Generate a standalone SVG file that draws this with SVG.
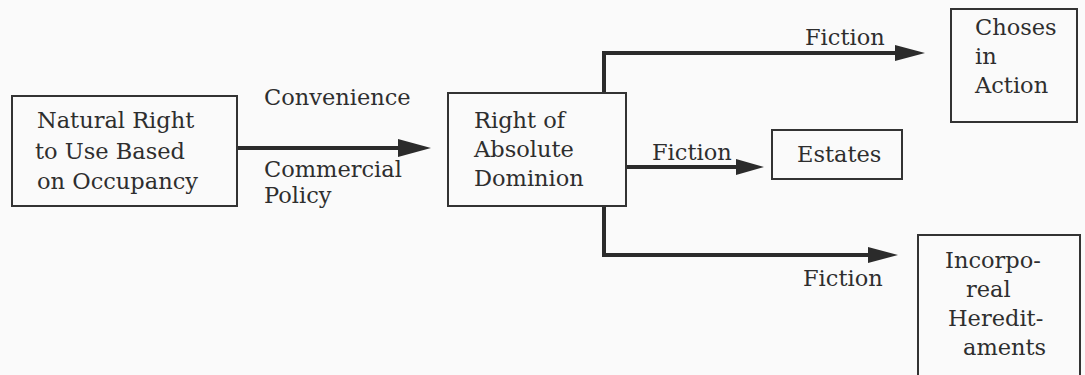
<svg xmlns="http://www.w3.org/2000/svg" width="1085" height="375" viewBox="0 0 1085 375">
<defs>
<style>
.bg{fill:#fafafa}
.box{fill:none;stroke:#333;stroke-width:2}
.t{font-family:"DejaVu Serif","Liberation Serif",serif;font-size:22.5px;fill:#2e2e2e}
.ln{fill:none;stroke:#2b2b2b;stroke-width:4;stroke-linejoin:miter}
.head{fill:#2b2b2b}
</style>
</defs>
<rect class="bg" x="0" y="0" width="1085" height="375"/>
<g id="connectors">
<line class="ln" x1="237" y1="148" x2="404" y2="148" stroke-width="5"/>
<polygon class="head" points="398,139 431,148 398,157"/>
<polyline class="ln" points="760,53 604,53 604,93"/>
<polygon class="head" points="895,45 925,53 895,61"/>
<line class="ln" x1="604" y1="53" x2="898" y2="53"/>
<line class="ln" x1="626" y1="167" x2="740" y2="167"/>
<polygon class="head" points="736,159 764,167 736,175"/>
<polyline class="ln" points="604,206 604,255 872,255"/>
<polygon class="head" points="868,247 898,255 868,263"/>
<text class="t" x="264" y="105">Convenience</text>
<text class="t" x="264" y="177">Commercial</text>
<text class="t" x="264" y="203">Policy</text>
<text class="t" x="805" y="45">Fiction</text>
<text class="t" x="652" y="160">Fiction</text>
<text class="t" x="803" y="286">Fiction</text>
</g>
<g id="natural-right">
<rect class="box" x="12" y="96" width="225" height="110"/>
<text class="t" x="37" y="128">Natural Right</text>
<text class="t" x="35" y="159">to Use Based</text>
<text class="t" x="37" y="189">on Occupancy</text>
</g>
<g id="absolute-dominion">
<rect class="box" x="448" y="93" width="178" height="113"/>
<text class="t" x="474" y="128">Right of</text>
<text class="t" x="474" y="157">Absolute</text>
<text class="t" x="474" y="186">Dominion</text>
</g>
<g id="choses-in-action">
<rect class="box" x="951" y="9" width="126" height="113"/>
<text class="t" x="975" y="35">Choses</text>
<text class="t" x="975" y="64">in</text>
<text class="t" x="975" y="93">Action</text>
</g>
<g id="estates">
<rect class="box" x="772" y="130" width="130" height="49"/>
<text class="t" x="797" y="162">Estates</text>
</g>
<g id="incorporeal-hereditaments">
<rect class="box" x="918" y="235" width="162" height="150"/>
<text class="t" x="945" y="268">Incorpo-</text>
<text class="t" x="966" y="297">real</text>
<text class="t" x="948" y="326">Heredit-</text>
<text class="t" x="963" y="355">aments</text>
</g>
</svg>
